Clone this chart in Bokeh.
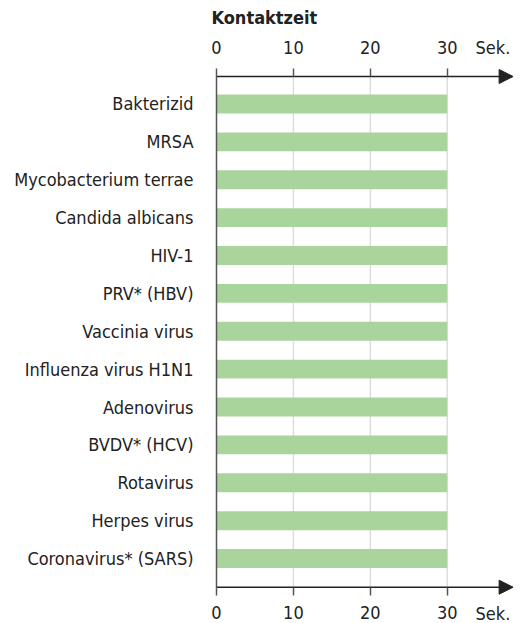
from bokeh.plotting import figure
from bokeh.models import (Range1d, LinearAxis, FixedTicker, Arrow, NormalHead,
                          Label, ColumnDataSource)
from bokeh.embed import file_html
from bokeh.resources import INLINE

categories = ["Bakterizid", "MRSA", "Mycobacterium terrae", "Candida albicans", "HIV-1",
              "PRV* (HBV)", "Vaccinia virus", "Influenza virus H1N1", "Adenovirus",
              "BVDV* (HCV)", "Rotavirus", "Herpes virus", "Coronavirus* (SARS)"]
contact_time = [30, 30, 30, 30, 30, 30, 30, 30, 30, 30, 30, 30, 30]
x_ticks = [0, 10, 20, 30]
title_text = "Kontaktzeit"
unit_text = "Sek."

FONT = "DejaVu Sans Condensed"
FS = "18px"
DARK = "#222222"

positions = list(range(len(categories)))
src = ColumnDataSource(dict(y=positions, right=contact_time, cat=categories))

y_top, y_bot = -0.726, 12.757
x_end = 38.62
p = figure(width=521, height=623, output_backend="svg", toolbar_location=None,
           x_range=Range1d(-1.43, x_end), y_range=Range1d(13.715, -1.782),
           x_axis_location=None, y_axis_location="left",
           min_border_left=205, min_border_right=8, min_border_top=36, min_border_bottom=0)
p.outline_line_color = None
p.background_fill_color = "white"
p.border_fill_color = "white"
p.xgrid.grid_line_color = None
p.ygrid.grid_line_color = None

# grid lines between the two axes
grid_x = [t for t in x_ticks if t > 0]
p.segment(x0=grid_x, y0=[y_top] * len(grid_x), x1=grid_x, y1=[y_bot] * len(grid_x),
          line_color="#dddddd", line_width=1.5)

p.hbar(y="y", left=0, right="right", height=0.5, source=src,
       fill_color="#a9d59c", line_color=None)

# vertical line at 0
p.segment(x0=[0], y0=[y_top], x1=[0], y1=[y_bot], line_color="#555555", line_width=1.5)

# axis lines with arrows
p.segment(x0=[0, 0], y0=[y_top, y_bot], x1=[x_end - 0.3, x_end - 0.3], y1=[y_top, y_bot],
          line_color=DARK, line_width=1.5)

# y axis labels
ya = p.yaxis[0]
ya.ticker = FixedTicker(ticks=positions)
ya.major_label_overrides = {i: c for i, c in enumerate(categories)}
ya.axis_line_color = None
ya.major_tick_line_color = None
ya.minor_tick_line_color = None
ya.major_tick_out = 0
ya.major_tick_in = 0
ya.major_label_standoff = 12
ya.major_label_text_font = FONT
ya.major_label_text_font_size = FS
ya.major_label_text_color = DARK

for loc, yy, so in [("above", y_top, 14), ("below", y_bot, 11)]:
    ax = LinearAxis(ticker=FixedTicker(ticks=x_ticks), fixed_location=yy)
    ax.axis_line_color = None
    ax.major_tick_line_color = "#555555"
    ax.major_tick_line_width = 1.5
    ax.major_tick_out = 8
    ax.major_tick_in = 0
    ax.minor_tick_line_color = None
    ax.major_label_standoff = so
    ax.major_label_text_font = FONT
    ax.major_label_text_font_size = FS
    ax.major_label_text_color = DARK
    p.add_layout(ax, loc)
    p.add_layout(Arrow(end=NormalHead(size=14, fill_color=DARK, line_color=DARK),
                       x_start=x_end - 2, y_start=yy, x_end=x_end - 0.05, y_end=yy,
                       line_alpha=0))

p.add_layout(Label(x=33.68, y=-1.492, text=unit_text, text_align="left",
                   text_baseline="middle", text_font=FONT, text_font_size=FS,
                   text_color=DARK))
p.add_layout(Label(x=33.68, y=13.45, text=unit_text, text_align="left",
                   text_baseline="middle", text_font=FONT, text_font_size=FS,
                   text_color=DARK))

p.title.text = title_text
p.title.align = "left"
p.title.vertical_align = "top"
p.title.offset = 6
p.title.text_font = FONT
p.title.text_font_style = "bold"
p.title.text_font_size = FS
p.title.text_color = DARK
p.title.standoff = 13

open("out.html", "w").write(file_html(p, INLINE))
